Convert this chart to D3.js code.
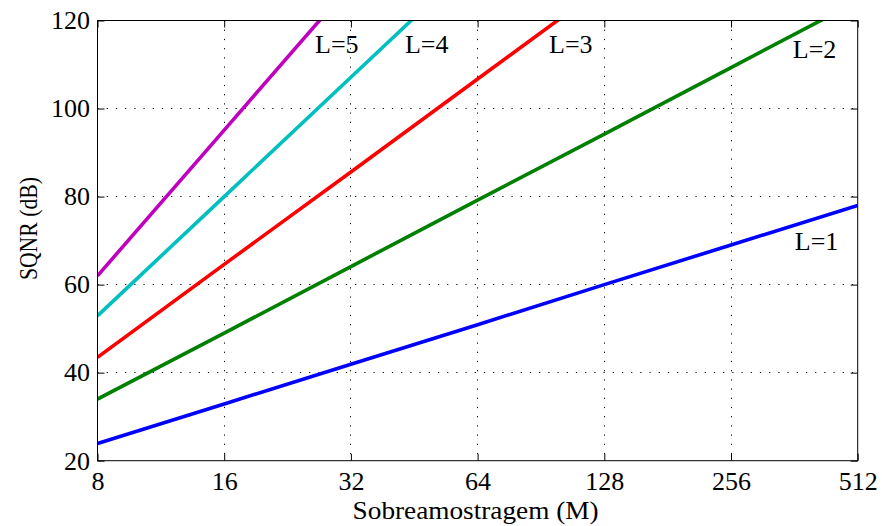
<!DOCTYPE html>
<meta charset="utf-8">
<script src="https://d3js.org/d3.v7.min.js"></script>
<style>
  body { margin: 0; background: #fff; }
  text { font-family: "Liberation Serif", "Times New Roman", serif; fill: #000; }
</style>
<div id="chart"></div>
<script>

// oversampling ratios on the x axis
var M = [8, 16, 32, 64, 128, 256, 512];
var yTicks = [20, 40, 60, 80, 100, 120];

// SQNR (dB), one array per modulator order
var sqnrL1 = [23.9, 32.9, 41.9, 50.9, 60.0, 69.0, 78.0];
var sqnrL2 = [34.0, 49.0, 64.1, 79.2, 94.2, 109.3, 124.4];
var sqnrL3 = [43.5, 64.6, 85.6, 106.7, 127.8];
var sqnrL4 = [52.9, 80.0, 107.1, 134.2];
var sqnrL5 = [62.0, 95.1, 128.2];

var seriesNames = ["L=1", "L=2", "L=3", "L=4", "L=5"];
var seriesColors = ["#0000ff", "#008000", "#ff0000", "#00bfbf", "#bf00bf"];
var seriesValues = [sqnrL1, sqnrL2, sqnrL3, sqnrL4, sqnrL5];

// where each label sits, in data units (M, dB)
var labelM = [363, 359, 94.6, 43.0, 26.3];
var labelDb = [67.8, 111.5, 112.6, 112.6, 112.6];

var margin = {top: 20.5, right: 24.3, bottom: 65.3, left: 97.5},
    width = 882 - margin.left - margin.right,
    height = 526 - margin.top - margin.bottom;

var svg = d3.select("#chart")
  .append("svg")
    .attr("width", 882)
    .attr("height", 526)
  .append("g")
    .attr("transform", "translate(" + margin.left + "," + margin.top + ")");

var x = d3.scaleLog().base(2)
  .domain([8, 512])
  .range([0, width]);

var y = d3.scaleLinear()
  .domain([20, 120])
  .range([height, 0]);

// dotted grid
svg.append("g").selectAll("line")
  .data(M.slice(1, -1))
  .enter().append("line")
    .attr("x1", function(d) { return Math.round(x(d)); })
    .attr("x2", function(d) { return Math.round(x(d)); })
    .attr("y1", 0).attr("y2", height)
    .attr("stroke", "#000").attr("stroke-width", 1)
    .attr("stroke-dasharray", "1.2,8");

svg.append("g").selectAll("line")
  .data(yTicks.slice(1, -1))
  .enter().append("line")
    .attr("x1", 0).attr("x2", width)
    .attr("y1", function(d) { return Math.round(y(d)); })
    .attr("y2", function(d) { return Math.round(y(d)); })
    .attr("stroke", "#000").attr("stroke-width", 1)
    .attr("stroke-dasharray", "1.2,8");

// clip lines to the plot box
svg.append("clipPath").attr("id", "clip")
  .append("rect").attr("width", width).attr("height", height);

var line = d3.line()
  .x(function(d) { return x(d[0]); })
  .y(function(d) { return y(d[1]); });

seriesValues.forEach(function(vals, i) {
  var pts = vals.map(function(v, j) { return [M[j], v]; });
  svg.append("path")
    .datum(pts)
    .attr("clip-path", "url(#clip)")
    .attr("fill", "none")
    .attr("stroke", seriesColors[i])
    .attr("stroke-width", 3.6)
    .attr("d", line);
});

// axes with inward ticks
var fmt = d3.format("d");
svg.append("g")
  .attr("transform", "translate(0," + height + ")")
  .call(d3.axisBottom(x).tickValues(M).tickFormat(fmt).tickSizeInner(-7).tickSizeOuter(0).tickPadding(11));
svg.append("g")
  .call(d3.axisLeft(y).tickValues(yTicks).tickFormat(fmt).tickSizeInner(-7).tickSizeOuter(0).tickPadding(7.5));
svg.append("g")
  .call(d3.axisTop(x).tickValues(M).tickFormat("").tickSizeInner(-7).tickSizeOuter(0));
svg.append("g")
  .attr("transform", "translate(" + width + ",0)")
  .call(d3.axisRight(y).tickValues(yTicks).tickFormat("").tickSizeInner(-7).tickSizeOuter(0));

svg.selectAll(".domain").remove();
svg.selectAll(".tick line").attr("stroke", "#000");
svg.selectAll(".tick text")
  .style("font-family", "'Liberation Serif', 'Times New Roman', serif")
  .style("font-size", "26px");

// box
svg.append("rect")
  .attr("width", width).attr("height", height)
  .attr("fill", "none").attr("stroke", "#000").attr("stroke-width", 1);

// series labels
svg.selectAll(".lbl")
  .data(seriesNames)
  .enter().append("text")
    .attr("class", "lbl")
    .attr("x", function(d, i) { return x(labelM[i]); })
    .attr("y", function(d, i) { return y(labelDb[i]); })
    .style("font-size", "26px")
    .text(function(d) { return d; });

// axis titles
svg.append("text")
  .attr("x", width / 2 - 2)
  .attr("y", height + 58)
  .attr("text-anchor", "middle")
  .attr("textLength", 246)
  .attr("lengthAdjust", "spacingAndGlyphs")
  .style("font-size", "26px")
  .text("Sobreamostragem (M)");

svg.append("text")
  .attr("transform", "translate(-61," + (height / 2 - 12) + ") rotate(-90)")
  .attr("text-anchor", "middle")
  .attr("textLength", 103)
  .attr("lengthAdjust", "spacingAndGlyphs")
  .style("font-size", "26px")
  .text("SQNR (dB)");

</script>
